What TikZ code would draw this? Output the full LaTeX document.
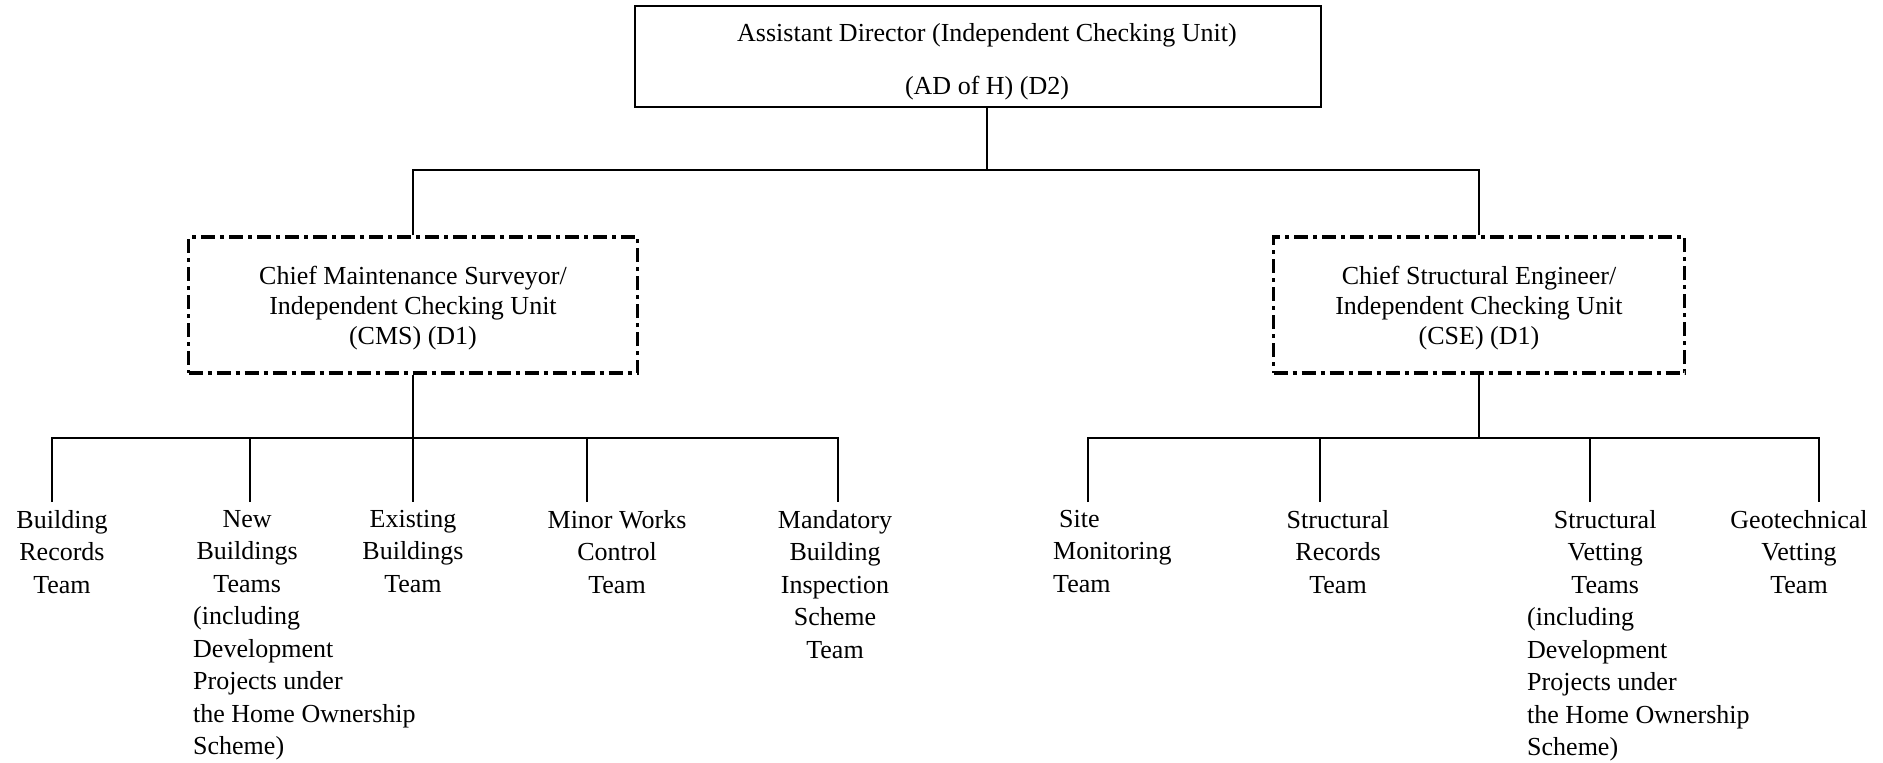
\documentclass[tikz,border=0pt]{standalone}
\usepackage{fontspec}
\setmainfont{Liberation Serif}
\begin{document}
\begin{tikzpicture}[x=1pt,y=-1pt,
  every node/.style={inner sep=0pt, font=\fontsize{26}{32.5}\selectfont},
  conn/.style={line width=2pt},
  topbox/.style={draw, line width=2pt, minimum width=686pt, minimum height=101pt,
    align=center, font=\fontsize{26}{53}\selectfont},
  dbox/.style={draw, line width=3.3pt, dash pattern=on 14pt off 5pt on 4pt off 5pt,
    minimum height=136pt, align=center, font=\fontsize{26}{30}\selectfont},
  team/.style={anchor=north, align=center},
  teaml/.style={anchor=north west, align=left}]
\useasboundingbox (0,0) rectangle (1883,763);

\node[topbox] (top) at (978,56.5) {\rule{0pt}{28pt}\hspace*{18pt}Assistant Director (Independent Checking Unit)\\\hspace*{18pt}(AD of H) (D2)};
\node[dbox, minimum width=449pt] (cms) at (413,305) {\rule{0pt}{24pt}Chief Maintenance Surveyor/\\Independent Checking Unit\\(CMS) (D1)};
\node[dbox, minimum width=411pt] (cse) at (1479,305) {\rule{0pt}{24pt}Chief Structural Engineer/\\Independent Checking Unit\\(CSE) (D1)};

% teams
\node[team] (br) at (62,510) {Building\\Records\\Team};
\node[teaml] (nb) at (193,510) {\makebox[108pt]{New}\\\makebox[108pt]{Buildings}\\\makebox[108pt]{Teams}\\(including\\Development\\Projects under\\the Home Ownership\\Scheme)};
\node[team] (eb) at (413,510) {Existing\\Buildings\\Team};
\node[team] (mw) at (617,510) {Minor Works\\Control\\Team};
\node[team] (mb) at (835,510) {Mandatory\\Building\\Inspection\\Scheme\\Team};
\node[teaml] (sm) at (1053,510) {\hspace*{6pt}Site\\Monitoring\\Team};
\node[team] (sr) at (1338,510) {Structural\\Records\\Team};
\node[teaml] (sv) at (1527,510) {\makebox[156pt]{Structural}\\\makebox[156pt]{Vetting}\\\makebox[156pt]{Teams}\\(including\\Development\\Projects under\\the Home Ownership\\Scheme)};
\node[team] (gv) at (1799,510) {Geotechnical\\Vetting\\Team};

% connectors top
\coordinate (j0) at (987,170);
\draw[conn] (top.south -| j0) -- (j0);
\draw[conn] (cms.north) |- (j0) -| (cse.north);

% left branch
\coordinate (j1) at (413,438);
\coordinate (a1) at (52,502);
\coordinate (a2) at (250,502);
\coordinate (a3) at (413,502);
\coordinate (a4) at (587,502);
\coordinate (a5) at (838,502);
\draw[conn] (cms.south) -- (j1);
\draw[conn] (a1) |- (a5 |- j1) -- (a5);
\draw[conn] (a2) -- (a2 |- j1);
\draw[conn] (j1) -- (a3);
\draw[conn] (a4) -- (a4 |- j1);

% right branch
\coordinate (j2) at (1479,438);
\coordinate (b1) at (1088,502);
\coordinate (b2) at (1320,502);
\coordinate (b3) at (1590,502);
\coordinate (b4) at (1819,502);
\draw[conn] (cse.south) -- (j2);
\draw[conn] (b1) |- (b4 |- j2) -- (b4);
\draw[conn] (b2) -- (b2 |- j2);
\draw[conn] (b3) -- (b3 |- j2);
\end{tikzpicture}
\end{document}
